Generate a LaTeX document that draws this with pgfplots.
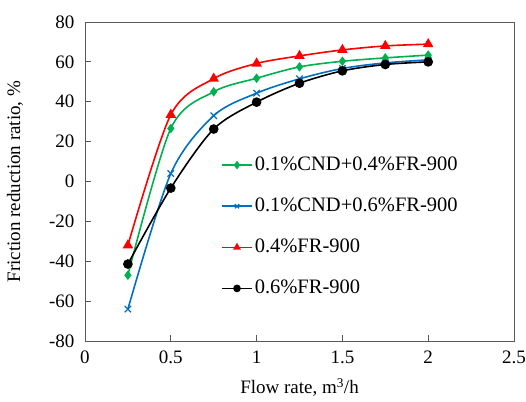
\documentclass[border=0pt]{standalone}
\usepackage{fontspec}
\setmainfont{Liberation Serif}
\usepackage{pgfplots}
\pgfplotsset{compat=1.18}
\definecolor{cgreen}{HTML}{00B050}
\definecolor{cblue}{HTML}{0070C0}
\definecolor{cred}{HTML}{FF0000}
\definecolor{axgray}{HTML}{595959}

\begin{document}
\fontsize{19}{23}\selectfont
\begin{tikzpicture}
\begin{axis}[
scale only axis,
width=429pt,
height=319pt,
xmin=0, xmax=2.5,
ymin=-80, ymax=80,
xtick={0,0.5,1,1.5,2,2.5},
ytick={-80,-60,-40,-20,0,20,40,60,80},
tick pos=left,
tick align=inside,
major tick length=6pt,
axis line style={axgray, line width=0.9pt},
tick style={axgray, line width=0.9pt},
/pgf/number format/assume math mode=true,
ticklabel style={font=\fontsize{19}{23}\selectfont},
yticklabel style={xshift=-4pt},
xticklabel style={yshift=-3pt},
label style={font=\fontsize{19}{23}\selectfont},
xlabel={Flow rate, m\textsuperscript{3}/h},
ylabel={Friction reduction ratio, \%},
every axis x label/.style={at={(axis description cs:0.5,-0.147)}, anchor=center},
every axis y label/.style={at={(axis description cs:-0.163,0.5)}, rotate=90, anchor=center},
legend style={draw=none, fill=none, at={(axis description cs:0.317,0.584)}, anchor=north west,
  font=\fontsize{20.5}{24}\selectfont, row sep=20.6pt, inner sep=0pt},
legend cell align=left,
legend image code/.code={\draw[mark repeat=2,mark phase=2,mark size=3pt] plot coordinates {(0pt,0pt) (15pt,0pt) (30pt,0pt)};},
]
\addplot[cgreen, line width=1.6pt, smooth, mark=diamond*, mark size=3.5pt] coordinates {
(0.25,-47) (0.5,26.6) (0.75,45) (1,51.8) (1.25,57.5) (1.5,60.3) (1.75,62) (2,63.4)
};
\addlegendentry{0.1\%CND+0.4\%FR-900}
\addplot[cblue, line width=1.6pt, smooth, mark=x, mark size=4.5pt, mark options={line width=1.3pt}] coordinates {
(0.25,-64) (0.5,4) (0.75,33) (1,44.3) (1.25,51.5) (1.5,56.7) (1.75,59.5) (2,61)
};
\addlegendentry{0.1\%CND+0.6\%FR-900}
\addplot[cred, line width=1.6pt, smooth, mark=triangle*, mark size=4.5pt] coordinates {
(0.25,-32) (0.5,33.5) (0.75,51.6) (1,59.2) (1.25,63) (1.5,66) (1.75,68) (2,68.9)
};
\addlegendentry{0.4\%FR-900}
\addplot[black, line width=1.6pt, smooth, mark=*, mark size=4pt] coordinates {
(0.25,-41.4) (0.5,-3.3) (0.75,26.3) (1,39.8) (1.25,49.3) (1.5,55.5) (1.75,58.7) (2,60)
};
\addlegendentry{0.6\%FR-900}
\end{axis}
\pgfresetboundingbox
\path ([shift={(-85pt,-60pt)}]current axis.south west) rectangle ([shift={(12pt,22pt)}]current axis.north east);
\end{tikzpicture}
\end{document}
